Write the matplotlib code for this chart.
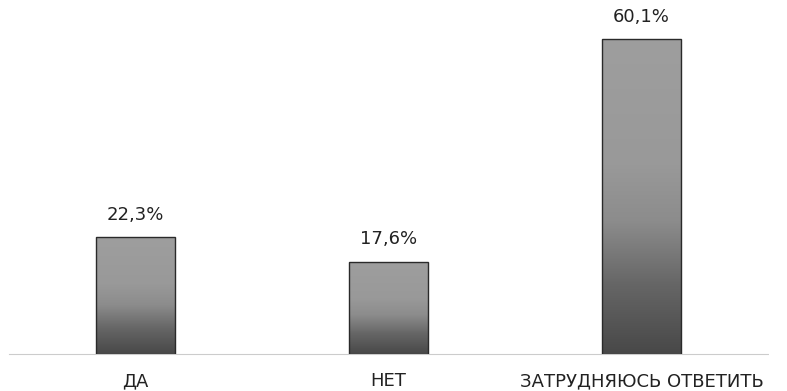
import numpy as np
import matplotlib.pyplot as plt
from matplotlib.colors import LinearSegmentedColormap

plt.rcParams["font.family"] = ["DejaVu Sans"]

categories = ["ДА", "НЕТ", "ЗАТРУДНЯЮСЬ ОТВЕТИТЬ"]
values = [22.3, 17.6, 60.1]
labels = ["22,3%", "17,6%", "60,1%"]

fig = plt.figure(figsize=(7.87, 3.91), dpi=100)
ax = fig.add_axes([9 / 787, 37 / 391, 759 / 787, (354 - 13) / 391])

x = np.arange(len(categories))
bars = ax.bar(x, values, width=0.312, color="none", edgecolor="#2a2a2a", linewidth=1.0, zorder=3)

# vertical gray gradient in each bar: dark at the bottom, light at the top
cmap = LinearSegmentedColormap.from_list(
    "bar", [(0.0, "#484848"), (0.22, "#666666"), (0.42, "#8c8c8c"), (0.6, "#999999"), (1.0, "#9e9e9e")]
)
grad = np.linspace(0, 1, 256).reshape(-1, 1)
for b in bars:
    x0, w, h = b.get_x(), b.get_width(), b.get_height()
    im = ax.imshow(grad, cmap=cmap, origin="lower", aspect="auto",
                   extent=[x0, x0 + w, 0, h], zorder=2)
    im.set_clip_path(b)

for b, lab in zip(bars, labels):
    ax.annotate(lab, (b.get_x() + b.get_width() / 2, b.get_height()),
                xytext=(0, 9.5), textcoords="offset points",
                ha="center", va="bottom", fontsize=13, color="#222222",
                annotation_clip=False)

ax.set_xlim(-0.5, 2.5)
ax.set_ylim(0, 65)
ax.set_xticks(x)
ax.set_xticklabels(categories, fontsize=13, color="#222222")
ax.tick_params(axis="x", length=0, pad=13)
ax.set_yticks([])
for s in ["top", "right", "left"]:
    ax.spines[s].set_visible(False)
ax.spines["bottom"].set_color("#cccccc")
ax.spines["bottom"].set_linestyle((0, (2, 1)))
ax.spines["bottom"].set_linewidth(0.8)

fig.savefig("out.png", dpi=100)
